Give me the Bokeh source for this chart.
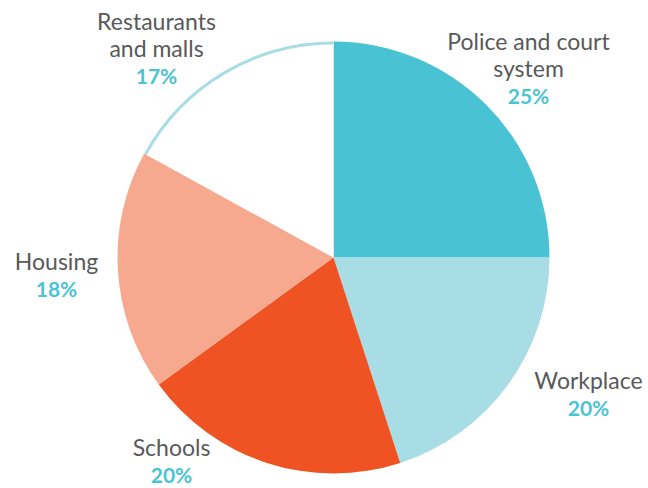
from bokeh.plotting import figure
from bokeh.models import Range1d, ColumnDataSource
from bokeh.embed import file_html
from bokeh.resources import INLINE
from bokeh.core.properties import value
import numpy as np

# ---- data ----
categories = ["Police and court system", "Workplace", "Schools", "Housing", "Restaurants and malls"]
shares = [25, 20, 20, 18, 17]
label_lines = [["Police and court", "system"], ["Workplace"], ["Schools"], ["Housing"], ["Restaurants", "and malls"]]
pct_labels = ["25%", "20%", "20%", "18%", "17%"]

# ---- styles / layout ----
fills = ["#49C3D3", "#A9DDE6", "#F05323", "#F6A98E", "#FFFFFF"]
cx, cy, R = 333, 488 - 257, 216
# label anchor (center x, baseline of percent line in page px)
label_pos = [(528, 95), (588, 407), (171, 474), (56, 288), (156, 75)]
line_gap = 27

p = figure(width=648, height=488, x_range=Range1d(0, 648), y_range=Range1d(0, 488),
           output_backend="svg", toolbar_location=None, min_border=0)
p.axis.visible = False
p.grid.visible = False
p.outline_line_color = None
p.background_fill_color = "white"

cum = np.cumsum([0] + shares)
start = [90 - c * 3.6 for c in cum[:-1]]
end = [90 - c * 3.6 for c in cum[1:]]
src = ColumnDataSource(dict(start=start, end=end, color=fills, cat=categories))
p.wedge(x=cx, y=cy, radius=R, start_angle="start", end_angle="end", direction="clock",
        start_angle_units="deg", end_angle_units="deg", fill_color="color", line_color=None,
        source=src)
# outline arc for the white slice
i = len(shares) - 1
p.arc(x=cx, y=cy, radius=R - 1.5, start_angle=start[i], end_angle=end[i], direction="clock",
      start_angle_units="deg", end_angle_units="deg", line_color="#A9DDE6", line_width=3)

tx, ty, tt = [], [], []
px, py, pt = [], [], []
for lines, pct, (lx, lb) in zip(label_lines, pct_labels, label_pos):
    px.append(lx); py.append(488 - lb); pt.append(pct)
    n = len(lines)
    for k, ln in enumerate(lines):
        tx.append(lx); ty.append(488 - (lb - line_gap * (n - k) - 1)); tt.append(ln)

p.text(x=tx, y=ty, text=tt, text_align="center", text_baseline="alphabetic",
       text_font=value("Lato"), text_font_size="23px", text_color="#595959")
p.text(x=px, y=py, text=pt, text_align="center", text_baseline="alphabetic",
       text_font=value("Lato"), text_font_size="21px", text_font_style="bold", text_color="#4AC4D3")

open("out.html", "w").write(file_html(p, INLINE))
